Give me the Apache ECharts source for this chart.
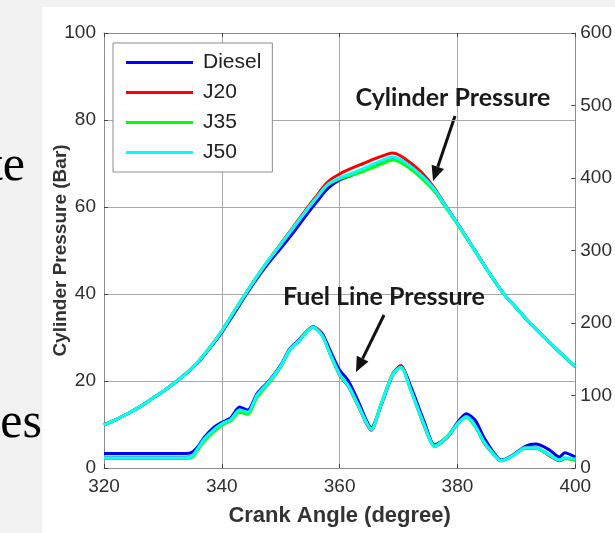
<!DOCTYPE html>
<html>
<head>
<meta charset="utf-8">
<script src="https://cdn.jsdelivr.net/npm/echarts@6/dist/echarts.min.js"></script>
<style>
  html, body { margin: 0; padding: 0; background: #f2f2f2; width: 615px; height: 533px; overflow: hidden; }
  #panel { position: absolute; left: 42px; top: 7px; right: 0; bottom: 0; background: #fff; }
  #chart { position: absolute; left: 0; top: 0; width: 615px; height: 533px; }
  .slide { position: absolute; font-family: "Liberation Serif", serif; font-size: 50px; line-height: 1; color: #000; text-align: right; white-space: nowrap; }
</style>
</head>
<body>
<div class="slide" style="left:-100px; width:125px; top:138px;">te</div>
<div class="slide" style="left:-100px; width:142px; top:395px;">es</div>
<div id="panel"></div>
<div id="chart"></div>
<script>
// 曲线名称和颜色
const fuelNames = ["Diesel", "J20", "J35", "J50"];
const lineColors = ["#0000ff", "#ff0000", "#00ff00", "#00ffff"];

// 缸内压力 (左轴, Bar)
const cylAngle = [320, 322, 324, 326, 328, 330, 332, 334, 336, 338, 340, 342, 344, 346, 348, 350,
  352, 354, 356, 358, 360, 362, 364, 366, 368, 369, 370, 372, 374, 376, 378, 380,
  382, 384, 386, 388, 390, 392, 394, 396, 398, 400];
const cylDiesel = [9.9, 11.1, 12.5, 14, 15.8, 17.6, 19.6, 21.8, 24.3, 27.6, 31.2, 35.3, 39.6, 43.6, 47.2, 50.5,
  53.9, 57.5, 61, 64.3, 66.2, 67.3, 68.4, 69.8, 71, 71.4, 71, 69.4, 67.1, 64.2, 60.2, 56.2,
  52, 47.8, 43.6, 39.8, 36.8, 33.8, 31, 28.4, 25.8, 23.3];
const cylJ20 = [9.9, 11.1, 12.5, 14, 15.8, 17.6, 19.6, 21.8, 24.5, 27.8, 31.5, 35.8, 40, 44.1, 47.9, 51.5,
  55.2, 58.9, 62.4, 65.8, 67.6, 68.9, 70, 71.1, 72.1, 72.4, 72, 70.2, 67.8, 64.5, 60.3, 56.2,
  52, 47.8, 43.6, 39.8, 36.8, 33.8, 31, 28.4, 25.8, 23.3];
const cylJ35 = [9.9, 11.1, 12.5, 14, 15.8, 17.6, 19.6, 21.8, 24.5, 27.8, 31.5, 35.8, 40, 44.1, 47.9, 51.4,
  55, 58.6, 62, 65.1, 66.5, 67.3, 68.2, 69.3, 70.4, 70.8, 70.5, 68.8, 66.5, 63.7, 59.9, 56,
  51.9, 47.7, 43.5, 39.8, 36.8, 33.8, 31, 28.4, 25.8, 23.3];
const cylJ50 = [9.9, 11.1, 12.5, 14, 15.8, 17.6, 19.6, 21.8, 24.5, 27.8, 31.5, 35.8, 40, 44.1, 47.9, 51.4,
  55, 58.6, 62, 65.2, 66.7, 67.7, 68.8, 70, 71.1, 71.5, 71.1, 69.4, 67.1, 64.2, 60.2, 56.2,
  52, 47.8, 43.6, 39.8, 36.8, 33.8, 31, 28.4, 25.8, 23.3];

// 油管压力 (右轴)
const fuelAngle = [320, 334, 335, 336, 337, 338.5, 340, 341.5, 343, 344.4, 346, 348, 350, 351.5, 353, 355.5,
  357, 358.5, 360, 361.5, 363, 365.4, 367, 369, 370.4, 372, 374.4, 376.1, 378.3, 380, 381.5, 383,
  384.5, 386, 387.4, 389.4, 391.5, 393.3, 395.6, 397.3, 398.2, 400];
const fuelDiesel = [20, 20, 22, 30, 42, 55, 63, 69, 84, 80, 103, 120, 142, 164, 176, 195,
  186, 160, 135, 120, 95, 56, 86, 128, 141, 114, 63, 32, 43, 63, 75, 66,
  42, 23, 11, 18, 30, 33, 25, 15, 21, 15];
const fuelJ20 = [15, 15, 17, 27, 39, 51, 60, 66, 79, 76, 100, 118, 140, 163, 175, 195,
  184, 155, 128, 112, 88, 52, 87, 130, 141, 110, 57, 30, 42, 61, 71, 58,
  35, 20, 10, 17, 28, 28, 17, 10, 13, 11];
const fuelJ35 = [13, 13, 15, 26, 37, 49, 59, 65, 77, 74, 98, 117, 140, 162, 174, 194,
  183, 155, 129, 113, 89, 54, 88, 129, 139, 109, 59, 31, 44, 61, 70, 57,
  36, 21, 10, 17, 27, 27, 18, 11, 13, 11];
const fuelJ50 = [14, 14, 17, 28, 40, 52, 61, 67, 80, 77, 101, 119, 141, 163, 175, 194,
  183, 155, 129, 113, 89, 53, 87, 129, 139, 109, 58, 30, 43, 61, 71, 58,
  36, 20, 10, 17, 28, 28, 18, 11, 14, 12];

const cylData = [cylDiesel, cylJ20, cylJ35, cylJ50];
const fuelData = [fuelDiesel, fuelJ20, fuelJ35, fuelJ50];

const pair = (xs, ys) => xs.map((x, i) => [x, ys[i]]);

const font = '"Liberation Sans", Arial, sans-serif';
const axisGray = "#8c8c8c";
const labelStyle = { fontSize: 19, color: "#2e2e2e", fontFamily: font };
const noteFont = 'bold 25px Lato, "Open Sans", sans-serif';

// 箭头
function arrow(x1, y1, x2, y2) {
  const dx = x2 - x1, dy = y2 - y1;
  const len = Math.sqrt(dx * dx + dy * dy);
  const ux = dx / len, uy = dy / len;
  const hl = 15, hw = 6.5;
  const bx = x2 - ux * hl, by = y2 - uy * hl;
  return [
    { type: "line", shape: { x1: x1, y1: y1, x2: bx, y2: by }, style: { stroke: "#111", lineWidth: 3 } },
    { type: "polygon", shape: { points: [[x2, y2], [bx - uy * hw, by + ux * hw], [bx + uy * hw, by - ux * hw]] }, style: { fill: "#111" } },
  ];
}

const chart = echarts.init(document.getElementById("chart"));

const series = [];
fuelNames.forEach((name, i) => {
  series.push({
    name: name, type: "line", yAxisIndex: 0, data: pair(cylAngle, cylData[i]),
    showSymbol: false, smooth: 0.35,
    lineStyle: { color: lineColors[i], width: 3 }, itemStyle: { color: lineColors[i] },
  });
});
fuelNames.forEach((name, i) => {
  series.push({
    name: name, type: "line", yAxisIndex: 1, data: pair(fuelAngle, fuelData[i]),
    showSymbol: false, smooth: 0.25,
    lineStyle: { color: lineColors[i], width: 3 }, itemStyle: { color: lineColors[i] },
  });
});

chart.setOption({
  animation: false,
  grid: { left: 104, right: 32, top: 33, bottom: 65 },
  legend: {
    orient: "vertical", left: 113, top: 43,
    data: fuelNames, icon: "rect", itemWidth: 67, itemHeight: 3, itemGap: 9,
    padding: [9, 11, 9, 13],
    backgroundColor: "#fff", borderColor: axisGray, borderWidth: 1,
    textStyle: { fontSize: 21, color: "#222", fontFamily: font, lineHeight: 21, padding: [0, 0, 0, 5] },
  },
  xAxis: [
    {
      type: "value", min: 320, max: 400, interval: 20,
      axisLine: { onZero: false, lineStyle: { color: axisGray } },
      axisTick: { inside: true, length: 4, lineStyle: { color: "#444" } },
      axisLabel: Object.assign({ margin: 9 }, labelStyle),
      splitLine: { show: true, lineStyle: { color: "#a8a8a8", width: 1 } },
      name: "Crank Angle (degree)", nameLocation: "middle", nameGap: 37, nameMoveOverlap: false,
      nameTextStyle: { fontSize: 22, fontWeight: "bold", color: "#333", fontFamily: font },
    },
    {
      type: "value", min: 320, max: 400, interval: 20, position: "top",
      axisLine: { onZero: false, lineStyle: { color: axisGray } },
      axisTick: { inside: true, length: 4, lineStyle: { color: "#444" } },
      axisLabel: { show: false }, splitLine: { show: false },
    },
  ],
  yAxis: [
    {
      type: "value", min: 0, max: 100, interval: 20,
      axisLine: { show: true, onZero: false, lineStyle: { color: axisGray } },
      axisTick: { show: true, inside: true, length: 4, lineStyle: { color: "#444" } },
      axisLabel: Object.assign({ margin: 8 }, labelStyle),
      splitLine: { show: true, lineStyle: { color: "#a8a8a8", width: 1 } },
      name: "Cylinder Pressure (Bar)", nameLocation: "middle", nameGap: 34, nameMoveOverlap: false,
      nameTextStyle: { fontSize: 19, fontWeight: "bold", color: "#333", fontFamily: font },
    },
    {
      type: "value", min: 0, max: 600, interval: 100, position: "right",
      axisLine: { show: true, onZero: false, lineStyle: { color: axisGray } },
      axisTick: { show: true, inside: true, length: 4, lineStyle: { color: "#444" } },
      axisLabel: Object.assign({ margin: 5 }, labelStyle),
      splitLine: { show: false },
    },
  ],
  series: series,
  graphic: [
    { type: "text", x: 453, y: 98, z: 100, style: { text: "Cylinder Pressure", font: noteFont, fill: "#1a1a1a", align: "center", verticalAlign: "middle" } },
    { type: "text", x: 384, y: 297, z: 100, style: { text: "Fuel Line Pressure", font: noteFont, fill: "#1a1a1a", align: "center", verticalAlign: "middle" } },
    { type: "group", z: 100, children: arrow(455, 116, 433, 181) },
    { type: "group", z: 100, children: arrow(384, 315, 356, 372) },
  ],
});
</script>
</body>
</html>
